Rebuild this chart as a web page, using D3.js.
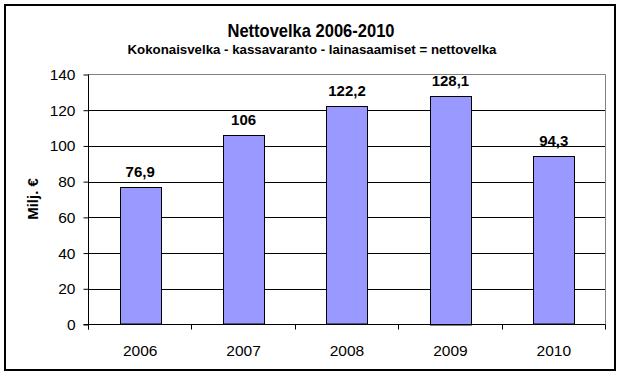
<!DOCTYPE html>
<html>
<head>
<meta charset="utf-8">
<script src="https://cdn.jsdelivr.net/npm/d3@7"></script>
<style>
  body { margin: 0; background: #fff; }
  svg { display: block; font-family: "Liberation Sans", Arial, sans-serif; }
</style>
</head>
<body>
<div id="chart"></div>
<script>
var years = ["2006", "2007", "2008", "2009", "2010"];
var nettovelka = [76.9, 106, 122.2, 128.1, 94.3];
var yTicks = [0, 20, 40, 60, 80, 100, 120, 140];
var titleText = "Nettovelka 2006-2010";
var subtitleText = "Kokonaisvelka - kassavaranto - lainasaamiset = nettovelka";
var yTitle = "Milj. \u20ac";

var W = 623, H = 377;
var plot = { left: 88.5, right: 605.5, top: 74.5, bottom: 324.5 };

var svg = d3.select("#chart").append("svg")
    .attr("width", W)
    .attr("height", H);

svg.append("rect")
    .attr("width", W).attr("height", H)
    .attr("fill", "#fff");

// outer frame
svg.append("rect")
    .attr("x", 5).attr("y", 5)
    .attr("width", 610).attr("height", 365)
    .attr("fill", "none")
    .attr("stroke", "#000")
    .attr("stroke-width", 2);

var x = d3.scaleBand()
    .domain(years)
    .range([plot.left, plot.right])
    .paddingInner(0.6)
    .paddingOuter(0.3);

var y = d3.scaleLinear()
    .domain([0, 140])
    .range([plot.bottom, plot.top]);

// gridlines
svg.append("g").selectAll("line")
    .data(yTicks.filter(function (d) { return d > 0 && d < 140; }))
    .enter().append("line")
    .attr("x1", plot.left).attr("x2", plot.right)
    .attr("y1", function (d) { return Math.round(y(d)) + 0.5; })
    .attr("y2", function (d) { return Math.round(y(d)) + 0.5; })
    .attr("stroke", "#000");

// plot area border (top + right, grey)
svg.append("path")
    .attr("d", "M" + plot.left + "," + plot.top + "H" + plot.right + "V" + plot.bottom)
    .attr("fill", "none")
    .attr("stroke", "#808080");

// bars
svg.append("g").selectAll("rect")
    .data(nettovelka)
    .enter().append("rect")
    .attr("x", function (d, i) { return Math.round(x(years[i])) + 0.5; })
    .attr("y", function (d) { return Math.round(y(d)) + 0.5; })
    .attr("width", Math.round(x.bandwidth()))
    .attr("height", function (d) { return Math.round(plot.bottom - y(d)) - 0.5; })
    .attr("fill", "#9999ff")
    .attr("stroke", "#000");

// y axis
var yAxis = d3.axisLeft(y)
    .tickValues(yTicks)
    .tickSize(5)
    .tickPadding(8)
    .tickFormat(d3.format("d"));
var gy = svg.append("g")
    .attr("transform", "translate(" + plot.left + ",0)")
    .call(yAxis);
gy.select(".domain").remove();
gy.append("line")
    .attr("x1", 0).attr("x2", 0)
    .attr("y1", plot.top).attr("y2", plot.bottom + 5)
    .attr("stroke", "#000");
gy.selectAll(".tick line").attr("stroke", "#000");
gy.selectAll(".tick text")
    .attr("fill", "#000")
    .attr("font-size", 15.5)
    .attr("font-family", "Liberation Sans, Arial, sans-serif");

// x axis line + ticks at category boundaries
svg.append("line")
    .attr("x1", plot.left - 5).attr("x2", plot.right)
    .attr("y1", plot.bottom).attr("y2", plot.bottom)
    .attr("stroke", "#000");
var bounds = d3.range(years.length + 1).map(function (i) { return plot.left + i * x.step(); });
svg.append("g").selectAll("line")
    .data(bounds)
    .enter().append("line")
    .attr("x1", function (d) { return Math.round(d - 0.5) + 0.5; })
    .attr("x2", function (d) { return Math.round(d - 0.5) + 0.5; })
    .attr("y1", plot.bottom).attr("y2", plot.bottom + 5)
    .attr("stroke", "#000");

svg.append("g").selectAll("text")
    .data(years)
    .enter().append("text")
    .attr("x", function (d) { return x(d) + x.bandwidth() / 2; })
    .attr("y", 356)
    .attr("text-anchor", "middle")
    .attr("font-size", 15.5)
    .text(function (d) { return d; });

// data labels
svg.append("g").selectAll("text")
    .data(nettovelka)
    .enter().append("text")
    .attr("x", function (d, i) { return x(years[i]) + x.bandwidth() / 2; })
    .attr("y", function (d) { return y(d) - 10; })
    .attr("text-anchor", "middle")
    .attr("font-size", 15)
    .attr("font-weight", "bold")
    .text(function (d) { return String(d).replace(".", ","); });

// titles
svg.append("text")
    .attr("x", 311).attr("y", 37)
    .attr("text-anchor", "middle")
    .attr("font-size", 19)
    .attr("font-weight", "bold")
    .attr("textLength", 167)
    .attr("lengthAdjust", "spacingAndGlyphs")
    .text(titleText);

svg.append("text")
    .attr("x", 312).attr("y", 54)
    .attr("text-anchor", "middle")
    .attr("font-size", 13.5)
    .attr("font-weight", "bold")
    .attr("textLength", 369)
    .attr("lengthAdjust", "spacingAndGlyphs")
    .text(subtitleText);

svg.append("text")
    .attr("transform", "translate(38,199) rotate(-90)")
    .attr("text-anchor", "middle")
    .attr("font-size", 15)
    .attr("font-weight", "bold")
    .text(yTitle);
</script>
</body>
</html>
